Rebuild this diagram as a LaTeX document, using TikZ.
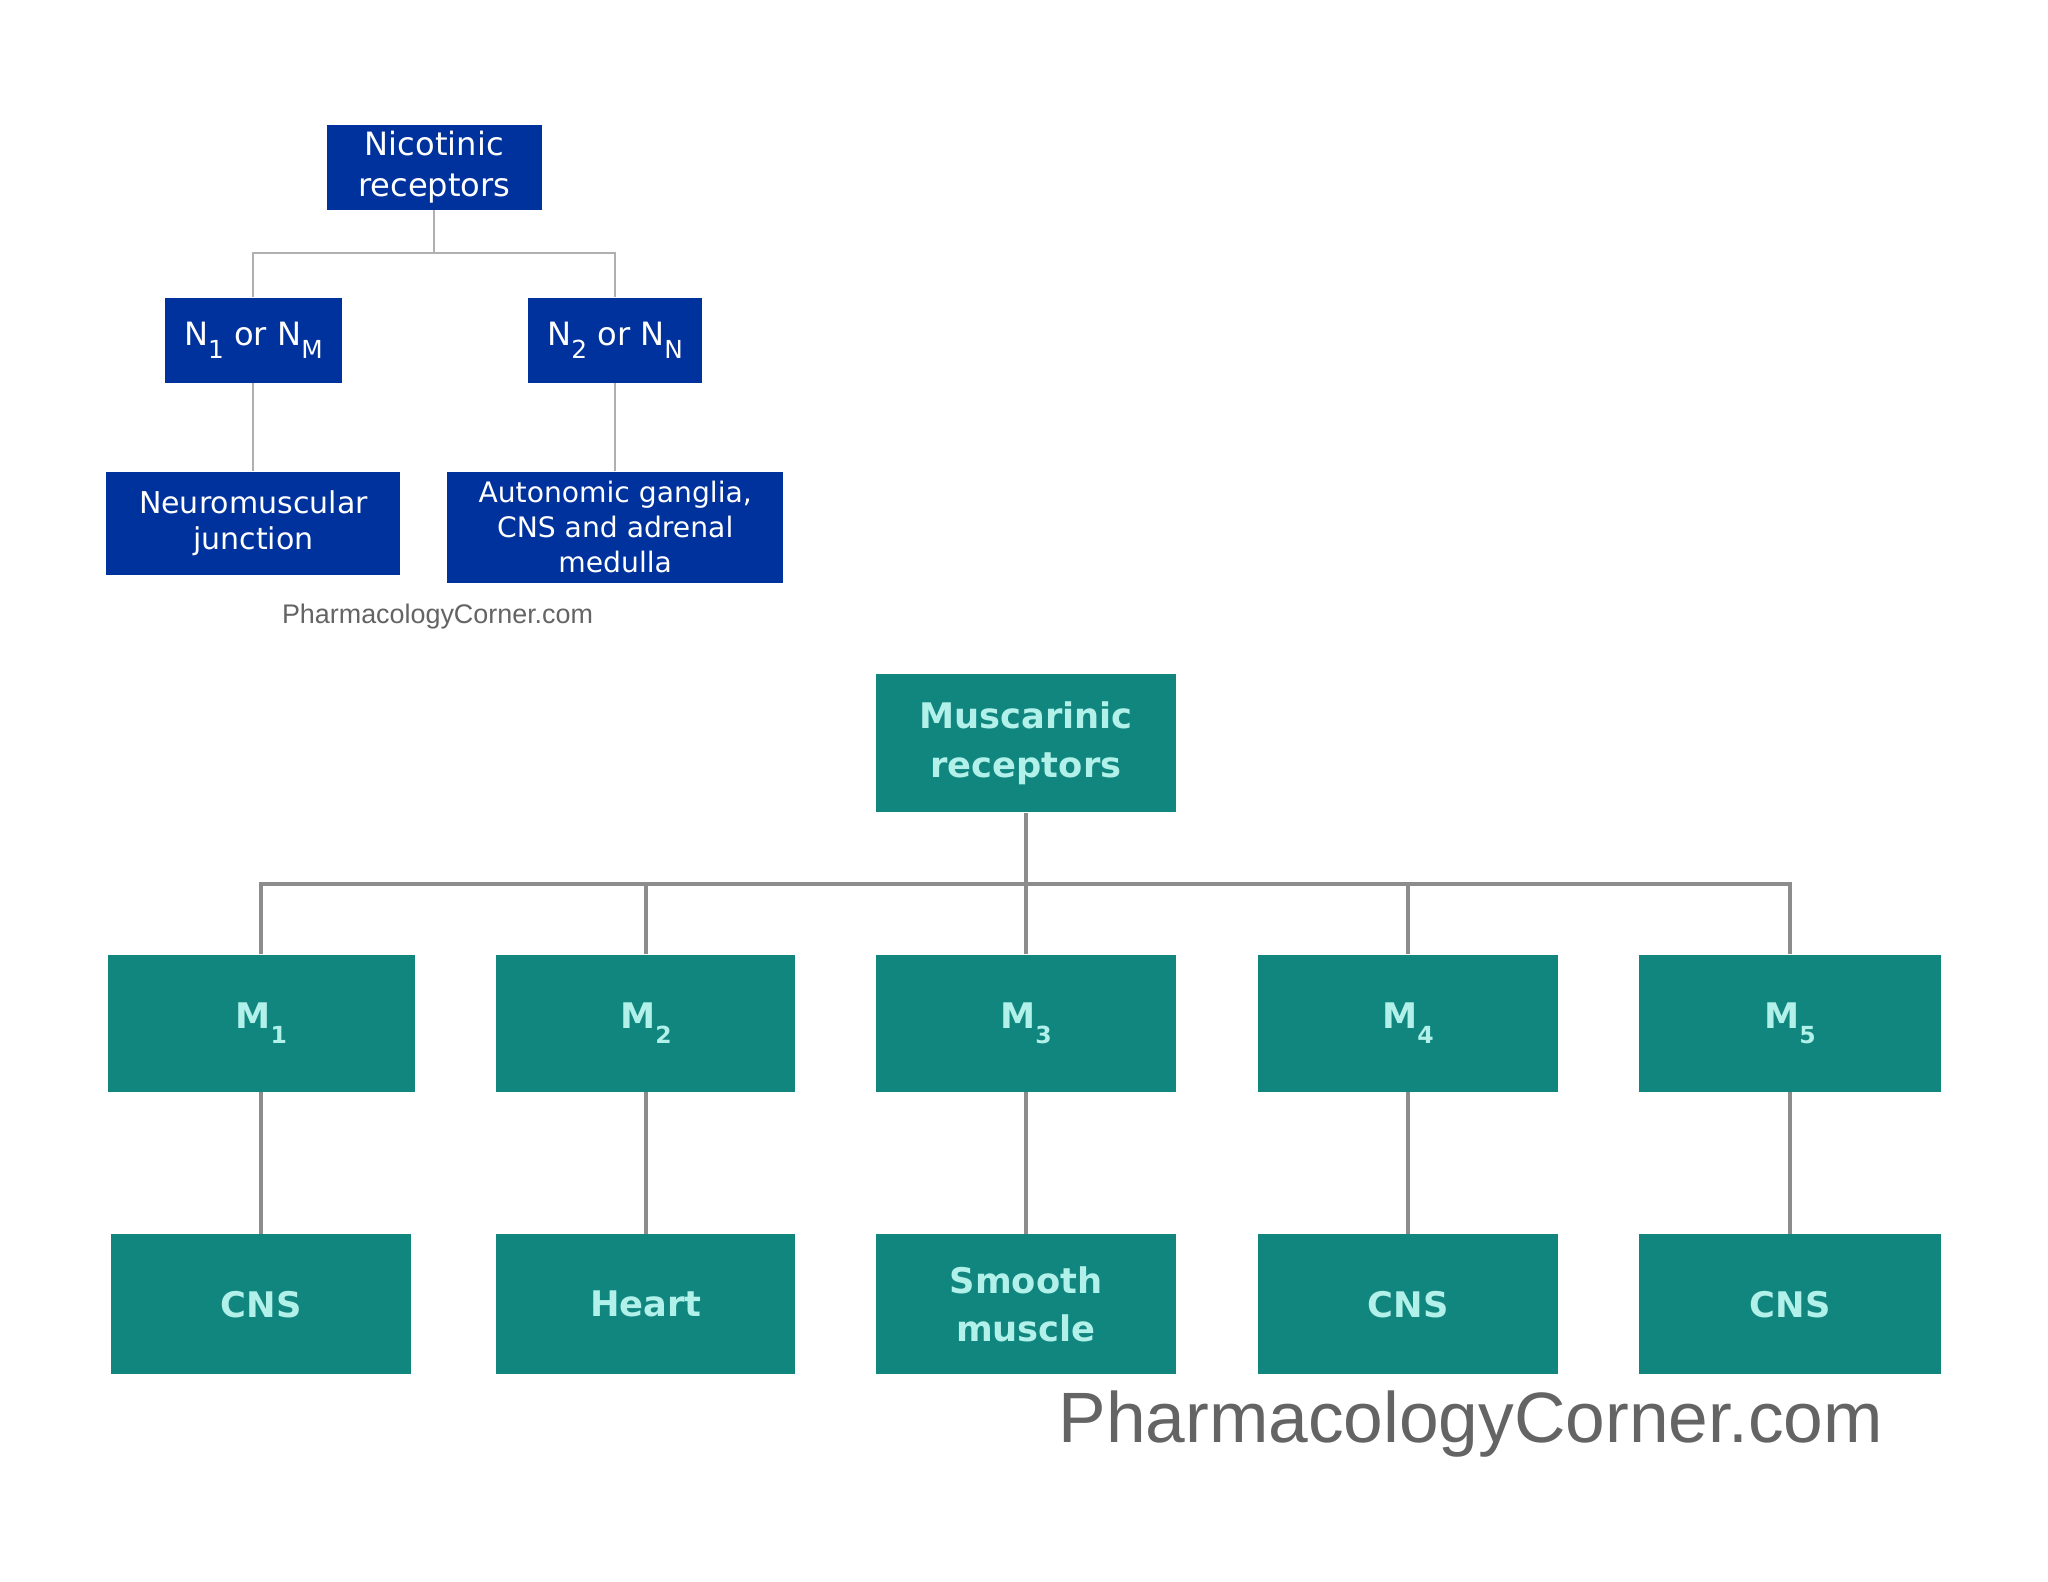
\documentclass[tikz,border=0pt]{standalone}
\usepackage{fontspec}
\setmainfont{DejaVu Sans}
\newfontfamily\wmfont{Liberation Sans}
\definecolor{nblue}{RGB}{0,50,158}
\definecolor{mteal}{RGB}{16,134,127}
\definecolor{mtext}{RGB}{178,240,234}
\definecolor{nline}{RGB}{176,176,176}
\definecolor{mline}{RGB}{140,140,140}
\definecolor{wmgray}{RGB}{100,100,100}
\newcommand\nsub[1]{\raisebox{-0.7ex}{\fontsize{9.5}{9.5}\selectfont #1}}
\newcommand\msub[1]{\raisebox{-0.8ex}{\fontsize{9}{9}\selectfont #1}}
\tikzset{
  nbox/.style={draw=none, fill=nblue, text=white, inner sep=0pt, align=center,
    font=\fontsize{11.5}{13.5}\selectfont},
  mbox/.style={draw=none, fill=mteal, text=mtext, inner sep=0pt, align=center,
    font=\bfseries\fontsize{13.5}{18.5}\selectfont, minimum height=53pt},
  nconn/.style={draw=nline, line width=0.7pt},
  mconn/.style={draw=mline, line width=1.6pt},
}
\begin{document}
\begin{tikzpicture}[x=0.5pt, y=-0.5pt]
\useasboundingbox (0,0) rectangle (1568,1211);
\fill[white] (0,0) rectangle (1568,1211);
% Nicotinic tree
\node[nbox, minimum width=82.5pt, minimum height=32.5pt, font=\fontsize{12.3}{15.5}\selectfont] (nic) at (332.5,128) {Nicotinic\\receptors};
\node[nbox, minimum width=68pt, minimum height=32.5pt, font=\fontsize{12.3}{14}\selectfont] (n1) at (194,260.5) {N\nsub{1} or N\nsub{M}};
\node[nbox, minimum width=66.5pt, minimum height=32.5pt, font=\fontsize{12.3}{14}\selectfont] (n2) at (471,260.5) {N\nsub{2} or N\nsub{N}};
\node[nbox, minimum width=112.5pt, minimum height=39.5pt] (nmj) at (194,400.5) {Neuromuscular\\junction};
\node[nbox, minimum width=128.5pt, minimum height=42.5pt, font=\fontsize{10.8}{13.3}\selectfont] (aut) at (471,403.5) {Autonomic ganglia,\\CNS and adrenal\\medulla};
\node[text=wmgray, font=\wmfont\fontsize{10.3}{12}\selectfont, inner sep=0pt] (wm1) at (335,472) {PharmacologyCorner.com};
\coordinate (nj) at (332.5,194);
\draw[nconn] (nic.south) -- (nj);
\draw[nconn] (n1.north) |- (nj) -| (n2.north);
\draw[nconn] (n1.south) -- (nmj.north);
\draw[nconn] (n2.south) -- (aut.north);
% Muscarinic tree
\node[mbox, minimum width=115pt] (mus) at (785.5,569) {Muscarinic\\receptors};
\node[mbox, minimum width=117.5pt, minimum height=52.5pt] (m1) at (200,783.5) {M\msub{1}};
\node[mbox, minimum width=114.5pt, minimum height=52.5pt] (m2) at (494.5,783.5) {M\msub{2}};
\node[mbox, minimum width=115pt, minimum height=52.5pt] (m3) at (785.5,783.5) {M\msub{3}};
\node[mbox, minimum width=115pt, minimum height=52.5pt] (m4) at (1078,783.5) {M\msub{4}};
\node[mbox, minimum width=115.5pt, minimum height=52.5pt] (m5) at (1370.5,783.5) {M\msub{5}};
\node[mbox, minimum width=115pt, minimum height=53.5pt] (b1) at (200,998.5) {CNS};
\node[mbox, minimum width=114.5pt, minimum height=53.5pt] (b2) at (494.5,998.5) {Heart};
\node[mbox, minimum width=115pt, minimum height=53.5pt] (b3) at (785.5,998.5) {Smooth\\muscle};
\node[mbox, minimum width=115pt, minimum height=53.5pt] (b4) at (1078,998.5) {CNS};
\node[mbox, minimum width=115.5pt, minimum height=53.5pt] (b5) at (1370.5,998.5) {CNS};
\node[text=wmgray, font=\wmfont\fontsize{27.3}{30}\selectfont, inner sep=0pt] (wm2) at (1126,1090) {PharmacologyCorner.com};
\coordinate (mj) at (785.5,677);
\draw[mconn] (mus.south) -- (m3.north);
\draw[mconn] (m1.north) |- (mj) -| (m5.north);
\draw[mconn] (m2.north) -- (m2.north |- mj);
\draw[mconn] (m4.north) -- (m4.north |- mj);
\draw[mconn] (m1.south) -- (b1.north);
\draw[mconn] (m2.south) -- (b2.north);
\draw[mconn] (m3.south) -- (b3.north);
\draw[mconn] (m4.south) -- (b4.north);
\draw[mconn] (m5.south) -- (b5.north);
\end{tikzpicture}
\end{document}
